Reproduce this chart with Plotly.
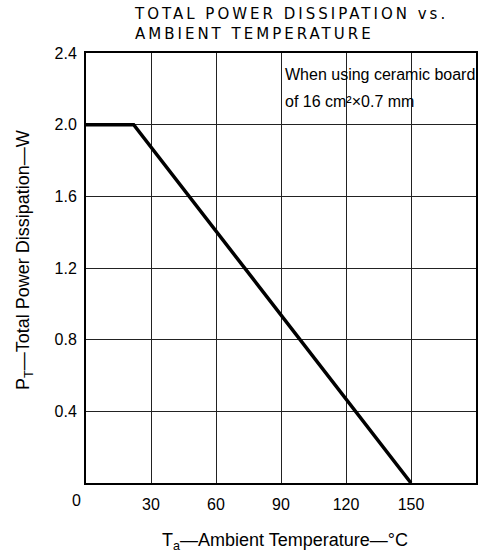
import plotly.graph_objects as go

# Data
temp_c = [0, 22, 150]
power_w = [2.0, 2.0, 0.0]
x_ticks = [30, 60, 90, 120, 150]
y_ticks = [0.4, 0.8, 1.2, 1.6, 2.0, 2.4]
y_tick_labels = ["0.4", "0.8", "1.2", "1.6", "2.0", "2.4"]

FONT = "Liberation Sans, Arial, sans-serif"
TFONT = "DejaVu Sans, sans-serif"

W, H = 479, 558
L, T = 86, 53
R = W - 476
B = H - 483
PW, PH = W - L - R, H - T - B

def px(xw):
    return (xw - L) / PW

def py(yw):
    return (H - B - yw) / PH

fig = go.Figure()
fig.add_trace(go.Scatter(x=temp_c, y=power_w, mode="lines",
                         line=dict(color="black", width=3.5), showlegend=False,
                         hoverinfo="skip"))

fig.update_layout(
    width=W, height=H,
    margin=dict(l=L, r=R, t=T, b=B, autoexpand=False),
    paper_bgcolor="white", plot_bgcolor="white",
    font=dict(family=FONT, color="black", size=16),
    xaxis=dict(range=[0, 180], tickvals=x_ticks, ticktext=[str(v) for v in x_ticks],
               showgrid=True, gridcolor="#222", gridwidth=1,
               showline=True, linecolor="black", linewidth=2, mirror=True,
               zeroline=False, ticks="outside", ticklen=6, tickcolor="rgba(0,0,0,0)",
               tickfont=dict(size=16)),
    yaxis=dict(range=[0, 2.4], tickvals=y_ticks, ticktext=y_tick_labels,
               showgrid=True, gridcolor="#222", gridwidth=1,
               showline=True, linecolor="black", linewidth=2, mirror=True,
               zeroline=False, ticks="outside", ticklen=4, tickcolor="rgba(0,0,0,0)",
               tickfont=dict(size=16)),
)

# corner "0" label
fig.add_annotation(x=0, y=0, xref="x", yref="y", text="0", showarrow=False,
                   xshift=-10, yshift=-17, font=dict(size=16))

# Title
fig.add_annotation(
    xref="paper", yref="paper", x=px(132), y=py(24),
    xanchor="left", yanchor="middle", align="left", showarrow=False,
    text="<span style='letter-spacing:3px'>TOTAL POWER DISSIPATION vs.</span><br>"
         "<span style='letter-spacing:3px'>AMBIENT TEMPERATURE</span>",
    font=dict(size=15, family=TFONT))

# Board note
fig.add_annotation(
    xref="paper", yref="paper", x=px(283), y=py(75), xanchor="left", yanchor="middle",
    showarrow=False, text="When using ceramic board", font=dict(size=16))
fig.add_annotation(
    xref="paper", yref="paper", x=px(283), y=py(101), xanchor="left", yanchor="middle",
    showarrow=False, text="of 16 cm²×0.7 mm", font=dict(size=16))

# Axis titles
fig.add_annotation(
    xref="paper", yref="paper", x=px(285), y=py(541),
    xanchor="center", yanchor="middle", showarrow=False,
    text="T<sub>a</sub>—Ambient Temperature—°C", font=dict(size=18))
fig.add_annotation(
    xref="paper", yref="paper", x=px(24), y=py(260),
    xanchor="center", yanchor="middle", showarrow=False, textangle=-90,
    text="P<sub>T</sub>—Total Power Dissipation—W", font=dict(size=18))

fig.write_html(
    "out.html",
    config={"displayModeBar": False},
    post_script="document.body.style.margin='0';document.body.style.overflow='hidden';",
)
